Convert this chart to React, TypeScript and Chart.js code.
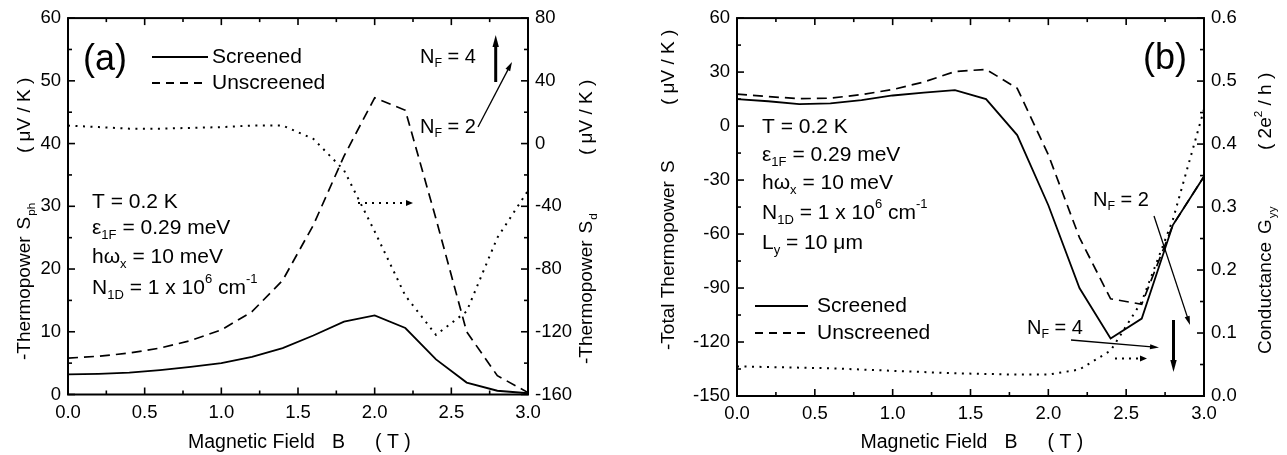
import React, { useEffect, useRef } from 'react';
import { Chart, registerables } from 'chart.js';

Chart.register(...registerables);

const FONT = '"Liberation Sans", Arial, Helvetica, sans-serif';
Chart.defaults.font.family = FONT;

// Magnetic field samples shared by every curve (T)
const fieldB = [0, 0.2, 0.4, 0.6, 0.8, 1.0, 1.2, 1.4, 1.6, 1.8, 2.0, 2.2, 2.4, 2.6, 2.8, 3.0];

// Panel (a): phonon-drag thermopower S_ph (μV/K), left axis
const sphScreened = [3.2, 3.3, 3.5, 3.9, 4.4, 5.0, 6.0, 7.4, 9.4, 11.6, 12.6, 10.6, 5.6, 1.9, 0.6, 0.2];
const sphUnscreened = [5.8, 6.1, 6.6, 7.4, 8.6, 10.3, 13.2, 18.2, 27.0, 38.0, 47.3, 45.3, 28.0, 10.0, 3.0, 0.3];
// Panel (a): diffusion thermopower S_d (μV/K), right axis
const sDiffusion = [11.5, 10.5, 9.5, 9.5, 10.0, 10.5, 11.5, 11.5, 3.0, -17, -56, -97, -122, -107, -60, -30];

// Panel (b): total thermopower S (μV/K), left axis
const sTotalScreened = [15, 13.8, 12.2, 12.6, 14.4, 17, 18.6, 20, 15, -5, -44, -90, -118, -107, -55, -28];
const sTotalUnscreened = [17.7, 16.4, 15.2, 15.5, 17.5, 20.3, 24.5, 30.3, 31.5, 21, -16, -62, -96, -99, -55, -28];
// Panel (b): conductance G_yy (2e²/h), right axis
const gYY = [0.047, 0.046, 0.045, 0.044, 0.042, 0.040, 0.038, 0.036, 0.035, 0.034, 0.034, 0.042, 0.072, 0.15, 0.28, 0.455];

// Axis tick values
const fieldTicks = [0, 0.5, 1.0, 1.5, 2.0, 2.5, 3.0];
const sphTicks = [0, 10, 20, 30, 40, 50, 60];
const sdTicks = [-160, -120, -80, -40, 0, 40, 80];
const sTotalTicks = [-150, -120, -90, -60, -30, 0, 30, 60];
const gTicks = [0, 0.1, 0.2, 0.3, 0.4, 0.5, 0.6];

type Seg = { t: string; k?: 'sub' | 'sup'; at?: number; gap?: number };

function drawSegs(ctx: CanvasRenderingContext2D, x: number, y: number, segs: Seg[], size: number, rotate = false) {
  ctx.save();
  ctx.translate(x, y);
  if (rotate) ctx.rotate(-Math.PI / 2);
  ctx.textBaseline = 'middle';
  ctx.textAlign = 'left';
  ctx.fillStyle = '#000';
  let cx = 0;
  for (const s of segs) {
    if (s.at !== undefined) cx = s.at;
    if (s.gap !== undefined) cx += s.gap;
    const fs = s.k ? size * 0.62 : size;
    ctx.font = `${fs}px ${FONT}`;
    const dy = s.k === 'sub' ? size * 0.34 : s.k === 'sup' ? -size * 0.4 : 0;
    ctx.fillText(s.t, cx, dy);
    cx += ctx.measureText(s.t).width;
  }
  ctx.restore();
}

function arrow(
  ctx: CanvasRenderingContext2D,
  x1: number, y1: number, x2: number, y2: number,
  width: number, len: number, half: number, dash: number[] = []
) {
  const a = Math.atan2(y2 - y1, x2 - x1);
  const c = Math.cos(a), s = Math.sin(a);
  ctx.save();
  ctx.strokeStyle = '#000';
  ctx.fillStyle = '#000';
  ctx.lineWidth = width;
  ctx.setLineDash(dash);
  ctx.beginPath();
  ctx.moveTo(x1, y1);
  ctx.lineTo(x2 - c * len * 0.8, y2 - s * len * 0.8);
  ctx.stroke();
  ctx.setLineDash([]);
  ctx.beginPath();
  ctx.moveTo(x2, y2);
  ctx.lineTo(x2 - len * c + half * s, y2 - len * s - half * c);
  ctx.lineTo(x2 - len * c - half * s, y2 - len * s + half * c);
  ctx.closePath();
  ctx.fill();
  ctx.restore();
}

function legendLine(ctx: CanvasRenderingContext2D, x1: number, x2: number, y: number, dash: number[]) {
  ctx.save();
  ctx.strokeStyle = '#000';
  ctx.lineWidth = 1.8;
  ctx.setLineDash(dash);
  ctx.beginPath();
  ctx.moveTo(x1, y);
  ctx.lineTo(x2, y);
  ctx.stroke();
  ctx.restore();
}

function minorsOf(majors: number[]) {
  const out: number[] = [];
  for (let i = 0; i < majors.length - 1; i++) out.push((majors[i] + majors[i + 1]) / 2);
  return out;
}

type PanelSpec = {
  width: number;
  offset: number;
  area: { l: number; r: number; t: number; b: number };
  leftTicks: number[];
  rightTicks: number[];
  leftFmt: (v: number) => string;
  rightFmt: (v: number) => string;
  series: { values: number[]; axis: 'y' | 'y1'; dash: number[]; width: number }[];
  draw: (ctx: CanvasRenderingContext2D, chart: any) => void;
};

// Frame, inward tick marks on all four sides, then the panel's own text and arrows
function makeFramePlugin(spec: PanelSpec) {
  return {
    id: 'frameTicks',
    afterDraw(chart: any) {
      const { ctx, chartArea: a, scales } = chart;
      const xs = scales.x, yl = scales.y, yr = scales.y1;
      ctx.save();
      ctx.strokeStyle = '#000';
      ctx.lineWidth = 1.6;
      const tick = (x1: number, y1: number, x2: number, y2: number) => {
        ctx.beginPath();
        ctx.moveTo(x1, y1);
        ctx.lineTo(x2, y2);
        ctx.stroke();
      };
      const major = 7, minor = 4;
      for (const v of fieldTicks) { const p = xs.getPixelForValue(v); tick(p, a.bottom, p, a.bottom - major); tick(p, a.top, p, a.top + major); }
      for (const v of minorsOf(fieldTicks)) { const p = xs.getPixelForValue(v); tick(p, a.bottom, p, a.bottom - minor); tick(p, a.top, p, a.top + minor); }
      for (const v of spec.leftTicks) { const p = yl.getPixelForValue(v); tick(a.left, p, a.left + major, p); }
      for (const v of minorsOf(spec.leftTicks)) { const p = yl.getPixelForValue(v); tick(a.left, p, a.left + minor, p); }
      for (const v of spec.rightTicks) { const p = yr.getPixelForValue(v); tick(a.right, p, a.right - major, p); }
      for (const v of minorsOf(spec.rightTicks)) { const p = yr.getPixelForValue(v); tick(a.right, p, a.right - minor, p); }
      ctx.lineWidth = 2;
      ctx.strokeRect(a.left, a.top, a.right - a.left, a.bottom - a.top);
      ctx.restore();
      spec.draw(ctx, chart);
    },
  };
}

const H = 455;
const TICK_FONT = 18.5;
const TITLE_FONT = 19;
const TEXT_FONT = 21;

function Panel({ spec }: { spec: PanelSpec }) {
  const ref = useRef<HTMLCanvasElement>(null);
  useEffect(() => {
    const { area, width } = spec;
    const tickOpts = { color: '#000', font: { size: TICK_FONT }, autoSkip: false, maxRotation: 0 };
    const chart = new Chart(ref.current as HTMLCanvasElement, {
      type: 'line',
      data: {
        datasets: spec.series.map((s) => ({
          data: fieldB.map((b, i) => ({ x: b, y: s.values[i] })),
          yAxisID: s.axis,
          borderColor: '#000',
          borderWidth: s.width,
          borderDash: s.dash,
          pointRadius: 0,
          tension: 0,
          fill: false,
        })),
      },
      options: {
        responsive: false,
        maintainAspectRatio: false,
        animation: false,
        events: [],
        layout: { padding: { top: area.t, left: 0, right: 0, bottom: 0 } },
        plugins: {
          legend: { display: false },
          tooltip: { enabled: false },
        },
        scales: {
          x: {
            type: 'linear',
            position: 'bottom',
            min: 0,
            max: 3,
            grid: { display: false, drawTicks: false },
            border: { display: false },
            ticks: { ...tickOpts, padding: 7, callback: (v: any) => Number(v).toFixed(1) },
            afterBuildTicks: (s: any) => { s.ticks = fieldTicks.map((v) => ({ value: v })); },
            afterFit: (s: any) => { s.height = H - area.b; },
          } as any,
          y: {
            type: 'linear',
            position: 'left',
            min: spec.leftTicks[0],
            max: spec.leftTicks[spec.leftTicks.length - 1],
            grid: { display: false, drawTicks: false },
            border: { display: false },
            ticks: { ...tickOpts, padding: 7, callback: (v: any) => spec.leftFmt(Number(v)) },
            afterBuildTicks: (s: any) => { s.ticks = spec.leftTicks.map((v) => ({ value: v })); },
            afterFit: (s: any) => { s.width = area.l; },
          } as any,
          y1: {
            type: 'linear',
            position: 'right',
            min: spec.rightTicks[0],
            max: spec.rightTicks[spec.rightTicks.length - 1],
            grid: { display: false, drawTicks: false },
            border: { display: false },
            ticks: { ...tickOpts, padding: 7, callback: (v: any) => spec.rightFmt(Number(v)) },
            afterBuildTicks: (s: any) => { s.ticks = spec.rightTicks.map((v) => ({ value: v })); },
            afterFit: (s: any) => { s.width = width - area.r; },
          } as any,
        },
      },
      plugins: [makeFramePlugin(spec)],
    });
    return () => chart.destroy();
  }, [spec]);
  return (
    <canvas
      ref={ref}
      width={spec.width}
      height={H}
      style={{ position: 'absolute', left: spec.offset, top: 0, width: spec.width, height: H }}
    />
  );
}

function xTitle(ctx: CanvasRenderingContext2D, center: number) {
  drawSegs(ctx, center - 110, 443, [{ t: 'Magnetic Field' }, { t: 'B', at: 144 }, { t: '( T )', at: 187 }], 19.5);
}

const panelA: PanelSpec = {
  width: 643,
  offset: 0,
  area: { l: 68, r: 528, t: 17, b: 394.5 },
  leftTicks: sphTicks,
  rightTicks: sdTicks,
  leftFmt: (v) => String(v),
  rightFmt: (v) => String(v),
  series: [
    { values: sphScreened, axis: 'y', dash: [], width: 1.8 },
    { values: sphUnscreened, axis: 'y', dash: [10, 6], width: 1.7 },
    { values: sDiffusion, axis: 'y1', dash: [2, 5.5], width: 2 },
  ],
  draw: (ctx, chart) => {
    const a = chart.chartArea;
    xTitle(ctx, (a.left + a.right) / 2);
    drawSegs(ctx, 25, 360, [{ t: '-Thermopower' }, { t: 'S', gap: 7 }, { t: 'ph', k: 'sub', gap: 1 }, { t: '( μV / K )', at: 207 }], TITLE_FONT, true);
    drawSegs(ctx, 587, 364, [{ t: '-Thermopower' }, { t: 'S', gap: 7 }, { t: 'd', k: 'sub', gap: 1 }, { t: '( μV / K )', at: 209 }], TITLE_FONT, true);

    drawSegs(ctx, 83, 60, [{ t: '(a)' }], 36);
    legendLine(ctx, 152, 208, 57, []);
    drawSegs(ctx, 212, 57, [{ t: 'Screened' }], TEXT_FONT);
    legendLine(ctx, 152, 208, 83, [8, 6]);
    drawSegs(ctx, 212, 83, [{ t: 'Unscreened' }], TEXT_FONT);

    drawSegs(ctx, 92, 202, [{ t: 'T = 0.2 K' }], TEXT_FONT);
    drawSegs(ctx, 92, 228, [{ t: 'ε' }, { t: '1F', k: 'sub' }, { t: ' = 0.29 meV' }], TEXT_FONT);
    drawSegs(ctx, 92, 257, [{ t: 'hω' }, { t: 'x', k: 'sub' }, { t: ' = 10 meV' }], TEXT_FONT);
    drawSegs(ctx, 92, 288, [{ t: 'N' }, { t: '1D', k: 'sub' }, { t: ' = 1 x 10' }, { t: '6', k: 'sup' }, { t: ' cm' }, { t: '-1', k: 'sup' }], TEXT_FONT);

    drawSegs(ctx, 420, 57, [{ t: 'N' }, { t: 'F', k: 'sub' }, { t: ' = 4' }], 20);
    arrow(ctx, 495.7, 82, 495.7, 35, 3, 12, 3.2);
    drawSegs(ctx, 420, 127, [{ t: 'N' }, { t: 'F', k: 'sub' }, { t: ' = 2' }], 20);
    arrow(ctx, 478, 127, 512, 62, 1.3, 9, 2.6);
    arrow(ctx, 358, 203, 413, 203, 2, 7, 3, [2, 5]);
  },
};

const OB = 643;
const panelB: PanelSpec = {
  width: 644,
  offset: OB,
  area: { l: 737 - OB, r: 1204 - OB, t: 15, b: 396 },
  leftTicks: sTotalTicks,
  rightTicks: gTicks,
  leftFmt: (v) => String(v),
  rightFmt: (v) => v.toFixed(1),
  series: [
    { values: sTotalScreened, axis: 'y', dash: [], width: 1.8 },
    { values: sTotalUnscreened, axis: 'y', dash: [10, 6], width: 1.7 },
    { values: gYY, axis: 'y1', dash: [2, 5.5], width: 2 },
  ],
  draw: (ctx, chart) => {
    const a = chart.chartArea;
    const X = (px: number) => px - OB;
    xTitle(ctx, (a.left + a.right) / 2);
    drawSegs(ctx, X(669), 350, [{ t: '-Total Thermopower' }, { t: 'S', gap: 8 }, { t: '( μV / K )', at: 245 }], TITLE_FONT, true);
    drawSegs(ctx, X(1266), 354, [{ t: 'Conductance' }, { t: 'G', gap: 8 }, { t: 'yy', k: 'sub', gap: 1 }, { t: '( 2e', at: 204 }, { t: '2', k: 'sup' }, { t: ' / h )' }], TITLE_FONT, true);

    drawSegs(ctx, X(1143), 59, [{ t: '(b)' }], 36);

    drawSegs(ctx, X(762), 127, [{ t: 'T = 0.2 K' }], TEXT_FONT);
    drawSegs(ctx, X(762), 155, [{ t: 'ε' }, { t: '1F', k: 'sub' }, { t: ' = 0.29 meV' }], TEXT_FONT);
    drawSegs(ctx, X(762), 183, [{ t: 'hω' }, { t: 'x', k: 'sub' }, { t: ' = 10 meV' }], TEXT_FONT);
    drawSegs(ctx, X(762), 213, [{ t: 'N' }, { t: '1D', k: 'sub' }, { t: ' = 1 x 10' }, { t: '6', k: 'sup' }, { t: ' cm' }, { t: '-1', k: 'sup' }], TEXT_FONT);
    drawSegs(ctx, X(762), 243, [{ t: 'L' }, { t: 'y', k: 'sub' }, { t: ' = 10 μm' }], TEXT_FONT);

    legendLine(ctx, X(755), X(808), 306, []);
    drawSegs(ctx, X(817), 306, [{ t: 'Screened' }], TEXT_FONT);
    legendLine(ctx, X(755), X(808), 333, [8, 6]);
    drawSegs(ctx, X(817), 333, [{ t: 'Unscreened' }], TEXT_FONT);

    drawSegs(ctx, X(1093), 200, [{ t: 'N' }, { t: 'F', k: 'sub' }, { t: ' = 2' }], 20);
    arrow(ctx, X(1154), 216, X(1190), 325, 1.3, 9, 2.6);
    drawSegs(ctx, X(1027), 328, [{ t: 'N' }, { t: 'F', k: 'sub' }, { t: ' = 4' }], 20);
    arrow(ctx, X(1071), 340, X(1159), 347.5, 1.3, 9, 2.6);
    arrow(ctx, X(1173.5), 320, X(1173.5), 372, 3, 12, 3.2);
    arrow(ctx, X(1115), 358.5, X(1147), 358.5, 2, 7, 3, [2, 5]);
  },
};

export default function App() {
  return (
    <div style={{ position: 'absolute', left: 0, top: 0, width: 1287, height: H, background: '#fff', overflow: 'hidden' }}>
      <Panel spec={panelA} />
      <Panel spec={panelB} />
    </div>
  );
}
